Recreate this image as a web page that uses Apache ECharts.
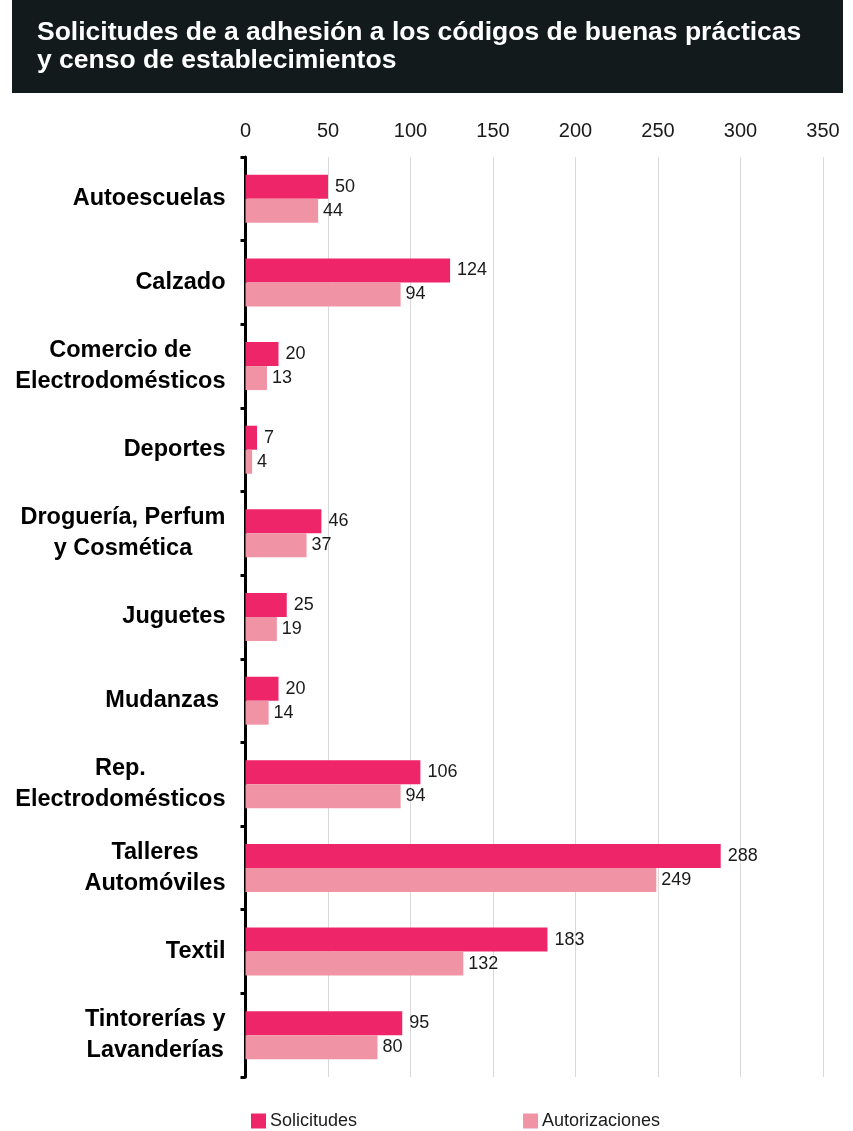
<!DOCTYPE html>
<html>
<head>
<meta charset="utf-8">
<title>Códigos de buenas prácticas</title>
<script src="https://cdn.jsdelivr.net/npm/echarts@6/dist/echarts.min.js"></script>
<style>
  html, body { margin: 0; padding: 0; background: #fff; }
  #chart { width: 853px; height: 1131px; }
</style>
</head>
<body>
<div id="chart"></div>
<script>
// datos
var categorias = [
  'Autoescuelas',
  'Calzado',
  'Comercio de\nElectrodomésticos',
  'Deportes',
  'Droguería, Perfum\ny Cosmética',
  'Juguetes',
  'Mudanzas ',
  'Rep.\nElectrodomésticos',
  'Talleres\nAutomóviles',
  'Textil',
  'Tintorerías y\nLavanderías'
];
var solicitudes = [50, 124, 20, 7, 46, 25, 20, 106, 288, 183, 95];
var autorizaciones = [44, 94, 13, 4, 37, 19, 14, 94, 249, 132, 80];
var ejeMin = 0, ejeMax = 350, ejePaso = 50;

var fuente = '"Liberation Sans", Arial, Helvetica, sans-serif';

var chart = echarts.init(document.getElementById('chart'));

chart.setOption({
  backgroundColor: '#fff',
  textStyle: { fontFamily: fuente },
  title: {
    text: 'Solicitudes de a adhesión a los códigos de buenas prácticas\ny censo de establecimientos',
    left: 37,
    top: 19,
    padding: 0,
    textStyle: {
      color: '#fff',
      fontFamily: fuente,
      fontWeight: 'bold',
      fontSize: 26.5,
      lineHeight: 28
    }
  },
  // caja oscura detrás del título
  graphic: [{
    type: 'rect',
    z: -1,
    shape: { x: 12, y: 0, width: 831, height: 93 },
    style: { fill: '#121a1b' }
  }],
  legend: {
    data: ['Solicitudes', 'Autorizaciones'],
    left: 251,
    bottom: 1,
    padding: 0,
    itemWidth: 15,
    itemHeight: 15,
    itemGap: 166,
    icon: 'rect',
    textStyle: { color: '#1a1a1a', fontSize: 18, padding: [0, 0, 0, -1] }
  },
  grid: {
    left: 245.5,
    right: 30,
    top: 157,
    bottom: 54,
    containLabel: false
  },
  xAxis: {
    type: 'value',
    position: 'top',
    min: ejeMin,
    max: ejeMax,
    interval: ejePaso,
    axisLine: { show: false },
    axisTick: { show: false },
    axisLabel: { color: '#1a1a1a', fontSize: 20, margin: 16 },
    splitLine: { lineStyle: { color: '#d9d9d9', width: 1 } }
  },
  yAxis: {
    type: 'category',
    inverse: true,
    data: categorias,
    axisLine: { show: true, lineStyle: { color: '#000', width: 3 } },
    axisTick: { show: true, length: 5, lineStyle: { color: '#000', width: 3 } },
    axisLabel: {
      margin: 20,
      formatter: function (v) {
        // cada línea centrada dentro del bloque
        return v.split('\n').map(function (l) { return '{c|' + l + '}'; }).join('\n');
      },
      rich: {
        c: {
          align: 'center',
          fontFamily: fuente,
          fontWeight: 'bold',
          fontSize: 23.5,
          lineHeight: 31,
          color: '#000'
        }
      }
    }
  },
  series: [
    {
      name: 'Solicitudes',
      type: 'bar',
      data: solicitudes,
      barWidth: 24,
      barGap: '0%',
      itemStyle: { color: '#ee2669' },
      label: { show: true, position: 'right', distance: 7, color: '#1a1a1a', fontSize: 18 }
    },
    {
      name: 'Autorizaciones',
      type: 'bar',
      data: autorizaciones,
      barWidth: 24,
      barGap: '0%',
      itemStyle: { color: '#f093a4' },
      label: { show: true, position: 'right', distance: 5, color: '#1a1a1a', fontSize: 18 }
    }
  ]
});
</script>
</body>
</html>
